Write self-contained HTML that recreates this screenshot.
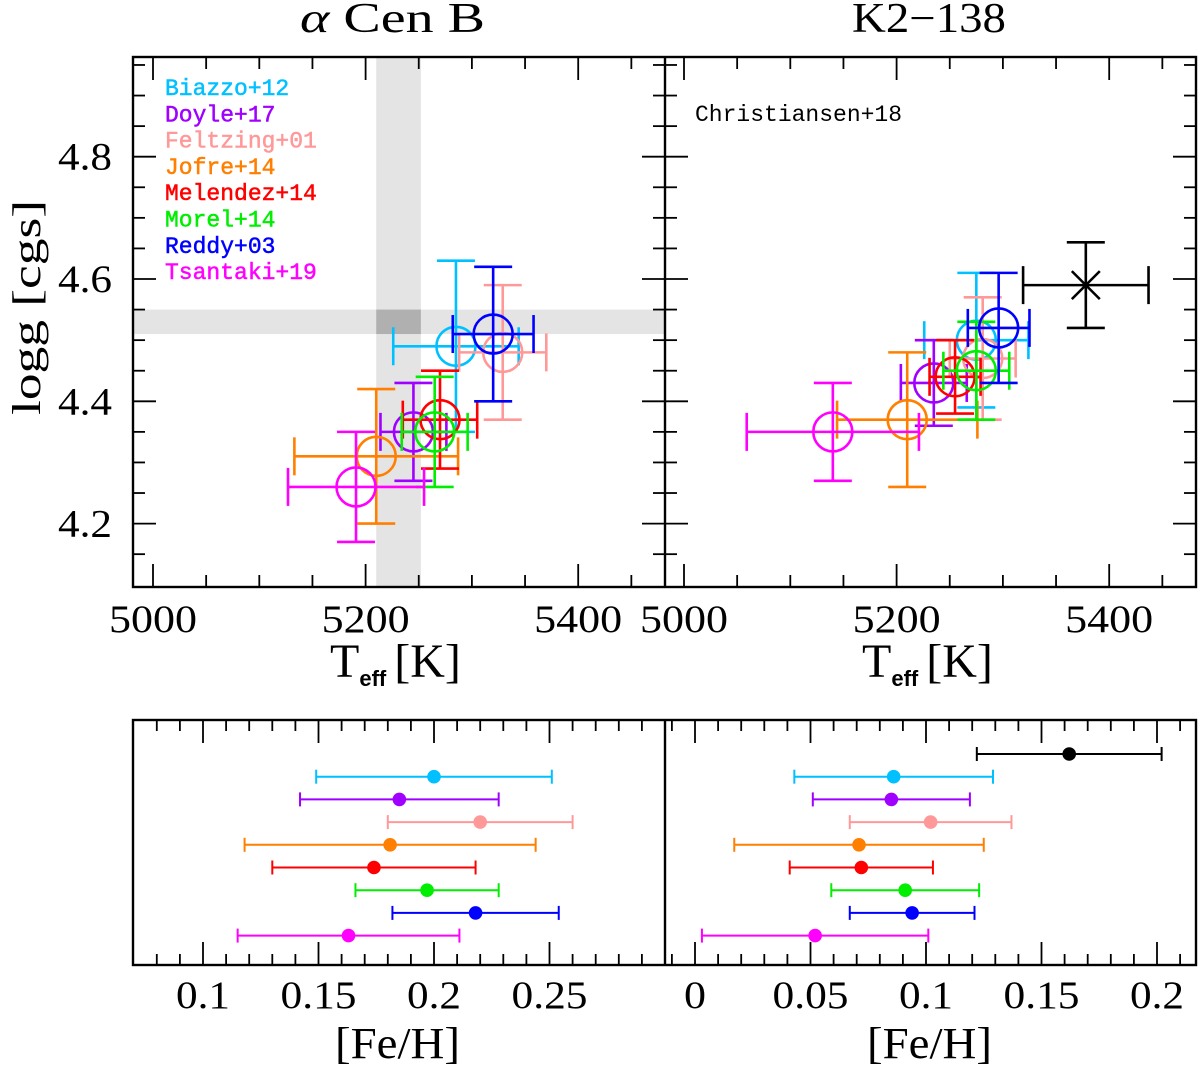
<!DOCTYPE html>
<html><head><meta charset="utf-8"><style>
html,body{margin:0;padding:0;background:#fff;}
svg{display:block;}
</style></head><body>
<svg id="fig" width="1200" height="1068" viewBox="0 0 1200 1068" xmlns="http://www.w3.org/2000/svg">
<g id="bands"></g>
<g id="marks"></g>
<g id="axes"></g>
<g font-family="Liberation Serif, serif" fill="#000">
<text x="300" y="32" font-size="42" textLength="185" lengthAdjust="spacingAndGlyphs"><tspan font-style="italic">α</tspan>  Cen  B</text>
<text x="852" y="32" font-size="42" textLength="154" lengthAdjust="spacingAndGlyphs">K2−138</text>
<text transform="translate(40,415) rotate(-90)" font-size="40" textLength="215" lengthAdjust="spacingAndGlyphs">logg [cgs]</text>
<text x="330" y="677" font-size="48">T<tspan font-size="22" dy="9" font-family="Liberation Sans, sans-serif" font-weight="bold">eff</tspan><tspan dy="-9" dx="8">[K]</tspan></text>
<text x="862" y="677" font-size="48">T<tspan font-size="22" dy="9" font-family="Liberation Sans, sans-serif" font-weight="bold">eff</tspan><tspan dy="-9" dx="8">[K]</tspan></text>
<text x="335" y="1058" font-size="44" textLength="125" lengthAdjust="spacingAndGlyphs">[Fe/H]</text>
<text x="867" y="1058" font-size="44" textLength="125" lengthAdjust="spacingAndGlyphs">[Fe/H]</text>
</g>
<g id="legend" font-family="Liberation Mono, monospace" font-size="23"></g>
<text x="695" y="121" font-family="Liberation Mono, monospace" font-size="23">Christiansen+18</text>
<g id="ticklabels" font-family="Liberation Serif, serif" font-size="39"></g>
</svg>
<script>
const names = ["Biazzo+12","Doyle+17","Feltzing+01","Jofre+14","Melendez+14","Morel+14","Reddy+03","Tsantaki+19"];
const colors = ["#00c0ff","#a000ff","#ff9999","#ff7f00","#ff0000","#00ee00","#0000ff","#ff00ff"];
// alpha Cen B
const acbTeff = [5285,5245,5329,5210,5270,5265,5320,5191];
const acbTeffErr = [59,31,41,77,35,31,38,64];
const acbLogg = [4.49,4.35,4.48,4.31,4.37,4.35,4.51,4.26];
const acbLoggErr = [0.14,0.08,0.11,0.11,0.08,0.09,0.11,0.09];
const acbFeh = [0.200,0.185,0.220,0.181,0.174,0.197,0.218,0.163];
const acbFehErr = [0.051,0.043,0.040,0.063,0.044,0.031,0.036,0.048];
// K2-138
const k2Teff = [5275,5235,5281,5210,5255,5275,5296,5140];
const k2TeffErr = [49,31,31,66,24,31,29,81];
const k2Logg = [4.50,4.43,4.47,4.37,4.44,4.45,4.52,4.35];
const k2LoggErr = [0.11,0.07,0.10,0.11,0.06,0.08,0.09,0.08];
const k2Feh = [0.086,0.085,0.102,0.071,0.072,0.091,0.094,0.052];
const k2FehErr = [0.043,0.034,0.035,0.054,0.031,0.032,0.027,0.049];
const chrTeff = [5378], chrTeffErr = [59], chrLogg = [4.59], chrLoggErr = [0.07], chrFeh = [0.162], chrFehErr = [0.04];
const sunBandTeff = [5210,5252];
const sunBandLogg = [4.51,4.55];
const teffTicks = [5000,5200,5400];
const loggTicks = [4.2,4.4,4.6,4.8];
const fehTicksL = [0.1,0.15,0.2,0.25];
const fehTicksR = [0,0.05,0.1,0.15,0.2];

const NS="http://www.w3.org/2000/svg";
function mk(parent,tag,attrs){const e=document.createElementNS(NS,tag);for(const k in attrs)e.setAttribute(k,attrs[k]);parent.appendChild(e);return e;}
const xL=t=>153+(t-5000)*1.063, xR=t=>684+(t-5000)*1.063, yG=g=>279-(g-4.6)*611.5;
const fL=v=>203+(v-0.1)*2310, fR=v=>695+v*2310, rowY=i=>754+22.7*i;
const TOP=57,BOT=587,BT=720,BB=965,X0=133,XM=665,X1=1196;

const bands=document.getElementById('bands');
let b=mk(bands,'rect',{x:xL(sunBandTeff[0]),y:TOP,width:xL(sunBandTeff[1])-xL(sunBandTeff[0]),height:BOT-TOP,fill:'#e4e4e4'});

b=mk(bands,'rect',{x:X0,y:yG(sunBandLogg[1]),width:XM-X0,height:yG(sunBandLogg[0])-yG(sunBandLogg[1]),fill:'#e4e4e4'});

b=mk(bands,'rect',{x:xL(sunBandTeff[0]),y:yG(sunBandLogg[1]),width:xL(sunBandTeff[1])-xL(sunBandTeff[0]),height:yG(sunBandLogg[0])-yG(sunBandLogg[1]),fill:'#b0b0b0'});


const marks=document.getElementById('marks');
function errPoint(xf,T,Te,G,Ge,col,name){
  const g=mk(marks,'g',{stroke:col,'stroke-width':2.6,fill:'none'});
  
  
  const cx=xf(T),cy=yG(G),x1=xf(T-Te),x2=xf(T+Te),y1=yG(G+Ge),y2=yG(G-Ge);
  mk(g,'line',{x1:x1,y1:cy,x2:x2,y2:cy});
  mk(g,'line',{x1:cx,y1:y1,x2:cx,y2:y2});
  mk(g,'line',{x1:x1,y1:cy-19,x2:x1,y2:cy+19});
  mk(g,'line',{x1:x2,y1:cy-19,x2:x2,y2:cy+19});
  mk(g,'line',{x1:cx-19,y1:y1,x2:cx+19,y2:y1});
  mk(g,'line',{x1:cx-19,y1:y2,x2:cx+19,y2:y2});
  return g;
}
function fehPoint(xf,v,e,row,col,name){
  const g=mk(marks,'g',{stroke:col,'stroke-width':2});
  
  
  const y=rowY(row),a=xf(v-e),c=xf(v+e);
  mk(g,'line',{x1:a,y1:y,x2:c,y2:y});
  mk(g,'line',{x1:a,y1:y-7,x2:a,y2:y+7});
  mk(g,'line',{x1:c,y1:y-7,x2:c,y2:y+7});
  mk(g,'circle',{cx:xf(v),cy:y,r:6.8,fill:col,stroke:'none'});
}
for(let i=0;i<names.length;i++){
  const g1=errPoint(xL,acbTeff[i],acbTeffErr[i],acbLogg[i],acbLoggErr[i],colors[i],'acb-point-'+i);
  mk(g1,'circle',{cx:xL(acbTeff[i]),cy:yG(acbLogg[i]),r:19.5});
  const g2=errPoint(xR,k2Teff[i],k2TeffErr[i],k2Logg[i],k2LoggErr[i],colors[i],'k2-point-'+i);
  mk(g2,'circle',{cx:xR(k2Teff[i]),cy:yG(k2Logg[i]),r:19.5});
  fehPoint(fL,acbFeh[i],acbFehErr[i],i+1,colors[i],'acb-feh-'+i);
  fehPoint(fR,k2Feh[i],k2FehErr[i],i+1,colors[i],'k2-feh-'+i);
}
const gc=errPoint(xR,chrTeff[0],chrTeffErr[0],chrLogg[0],chrLoggErr[0],'#000','christiansen-point');
const ccx=xR(chrTeff[0]),ccy=yG(chrLogg[0]);
mk(gc,'line',{x1:ccx-14,y1:ccy-14,x2:ccx+14,y2:ccy+14});
mk(gc,'line',{x1:ccx-14,y1:ccy+14,x2:ccx+14,y2:ccy-14});
fehPoint(fR,chrFeh[0],chrFehErr[0],0,'#000','christiansen-feh');

const leg=document.getElementById('legend');
for(let i=0;i<names.length;i++){
  const t=mk(leg,'text',{x:165,y:95+26.3*i,fill:colors[i],stroke:colors[i],'stroke-width':0.5});
  t.textContent=names[i];
  
  
}

const ax=document.getElementById('axes');
const st={stroke:'#000','stroke-width':2.4,fill:'none'};
function ln(x1,y1,x2,y2,w){mk(ax,'line',{x1,y1,x2,y2,stroke:'#000','stroke-width':w||1.8});}
let r=mk(ax,'rect',Object.assign({x:X0,y:TOP,width:X1-X0,height:BOT-TOP},st));

ln(XM,TOP,XM,BOT,2.4);
r=mk(ax,'rect',Object.assign({x:X0,y:BT,width:X1-X0,height:BB-BT},st));

ln(XM,BT,XM,BB,2.4);
for(let t=5000;t<=5450;t+=50){
  const maj=t%200===0, L=maj?23:12;
  for(const xf of [xL,xR]){const x=xf(t);ln(x,TOP,x,TOP+L);ln(x,BOT,x,BOT-L);}
}
for(let k=0;k<=16;k++){
  const g=4.15+0.05*k; if(g>4.96)break;
  const maj=Math.abs(Math.round(g*10)%2)===0 && Math.abs(g*10-Math.round(g*10))<1e-6, L=maj?23:12;
  const y=yG(g);
  ln(X0,y,X0+L,y);ln(XM,y,XM-L,y);ln(XM,y,XM+L,y);ln(X1,y,X1-L,y);
}
for(let k=8;k<=29;k++){const v=k/100,maj=k%5===0,L=maj?23:11,x=fL(v);ln(x,BT,x,BT+L);ln(x,BB,x,BB-L);}
for(let k=-1;k<=21;k++){const v=k/100,maj=k%5===0,L=maj?23:11,x=fR(v);ln(x,BT,x,BT+L);ln(x,BB,x,BB-L);}

const tl=document.getElementById('ticklabels');
function lab(x,y,s,anchor,name,w){const a={x,y,'text-anchor':anchor||'middle'};
  if(w){a.textLength=w;a.lengthAdjust='spacingAndGlyphs';}
  const t=mk(tl,'text',a);t.textContent=s;
  }
const cw=s=>{let w=0;for(const c of s)w+=(c==='.'?10:22);return w;};
teffTicks.forEach(t=>{lab(xL(t),632,String(t),'middle','teff-tick-label',cw(String(t)));lab(xR(t),632,String(t),'middle','teff-tick-label',cw(String(t)));});
loggTicks.forEach(g=>lab(112,yG(g)+13,g.toFixed(1),'end','logg-tick-label',cw(g.toFixed(1))));
fehTicksL.forEach(v=>lab(fL(v),1008,String(v),'middle','feh-tick-label',cw(String(v))));
fehTicksR.forEach(v=>lab(fR(v),1008,String(v),'middle','feh-tick-label',cw(String(v))));
</script>
</body></html>
